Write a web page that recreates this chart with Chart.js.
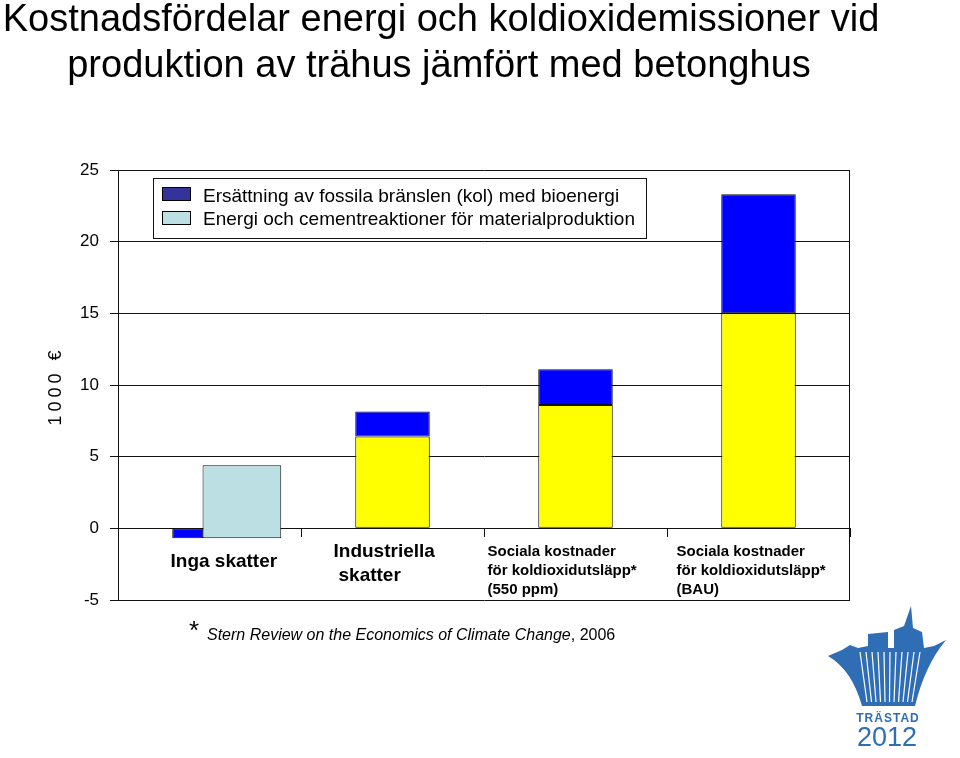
<!DOCTYPE html>
<html>
<head>
<meta charset="utf-8">
<script src="https://cdn.jsdelivr.net/npm/chart.js@4.4.0/dist/chart.umd.min.js"></script>
<style>
  html, body { margin: 0; padding: 0; background: #fff; }
  #wrap { width: 960px; height: 758px; }
</style>
</head>
<body>
<div id="wrap"><canvas id="kostnadChart" width="960" height="758"></canvas></div>
<script>
// --- data ---
var categories = [
  ['Inga skatter'],
  ['Industriella', 'skatter'],
  ['Sociala kostnader', 'för koldioxidutsläpp*', '(550 ppm)'],
  ['Sociala kostnader', 'för koldioxidutsläpp*', '(BAU)']
];
var seriesLabels = [
  'Ersättning av fossila bränslen (kol) med bioenergi',
  'Energi och cementreaktioner för materialproduktion'
];
var fossilValues = [-0.7, 1.75, 2.5, 8.3];          // dark blue (stacked on top)
var materialValues = [[-0.7, 4.4], null, null, null]; // light blue, floating bar
var baseValues = [null, 6.4, 8.6, 15.0];              // yellow base
var yTicks = [-5, 0, 5, 10, 15, 20, 25];

var titleLines = [
  'Kostnadsfördelar energi och koldioxidemissioner vid',
  'produktion av trähus jämfört med betonghus'
];
var yTitle = '1000 €';
var footnoteItalic = 'Stern Review on the Economics of Climate Change';
var footnoteRest = ', 2006';

// label placement under the zero line (offset from category centre)
var labelStyle = [
  { dx: -39, y: 567, size: 19, lh: 24, indent: [0] },
  { dx: -59, y: 557, size: 19, lh: 24, indent: [0, 5] },
  { dx: -88, y: 556, size: 15, lh: 19, indent: [0, 0, 0] },
  { dx: -82, y: 556, size: 15, lh: 19, indent: [0, 0, 0] }
];

var FONT = "'Liberation Sans', Arial, Helvetica, sans-serif";
var LINE = '#111';
var YELLOW = '#ffff00';
var BLUE = '#0000ff';
var LIGHT = '#bcdfe3';
var NAVY = '#333399';
var LOGO = '#2f6db5';

Chart.defaults.font.family = FONT;

function onlyAt(values, keep) {
  return values.map(function (v, i) { return keep.indexOf(i) >= 0 ? v : null; });
}

// rough sketch of the Trästad 2012 logo in the corner
function drawLogo(ctx) {
  ctx.save();
  ctx.fillStyle = LOGO;
  ctx.beginPath();
  ctx.moveTo(828, 656);
  ctx.lineTo(842, 650);
  ctx.lineTo(850, 645);
  ctx.lineTo(858, 648);
  ctx.lineTo(868, 646);
  ctx.lineTo(868, 634);
  ctx.lineTo(888, 632);
  ctx.lineTo(888, 648);
  ctx.lineTo(894, 648);
  ctx.lineTo(894, 630);
  ctx.lineTo(904, 626);
  ctx.lineTo(911, 606);
  ctx.lineTo(913, 628);
  ctx.lineTo(922, 632);
  ctx.lineTo(924, 648);
  ctx.lineTo(934, 646);
  ctx.lineTo(946, 640);
  ctx.quadraticCurveTo(925, 665, 915, 706);
  ctx.lineTo(862, 706);
  ctx.quadraticCurveTo(852, 670, 828, 656);
  ctx.closePath();
  ctx.fill();
  ctx.strokeStyle = '#fff';
  ctx.lineWidth = 1.2;
  for (var x = 860; x <= 920; x += 6) {
    ctx.beginPath();
    ctx.moveTo(x, 652);
    ctx.lineTo(888 + (x - 888) * 0.75, 702);
    ctx.stroke();
  }
  ctx.restore();
}

var slideText = {
  id: 'slideText',
  afterDraw: function (chart) {
    var ctx = chart.ctx;
    var area = chart.chartArea;
    var xScale = chart.scales.x;
    ctx.save();

    // right edge of the plot frame
    ctx.strokeStyle = LINE;
    ctx.lineWidth = 1;
    ctx.beginPath();
    ctx.moveTo(Math.round(area.right) - 0.5, Math.round(area.top) + 0.5);
    ctx.lineTo(Math.round(area.right) - 0.5, Math.round(area.bottom) + 0.5);
    ctx.stroke();

    // title
    ctx.fillStyle = '#000';
    ctx.textAlign = 'center';
    ctx.textBaseline = 'alphabetic';
    ctx.font = '38px ' + FONT;
    ctx.fillText(titleLines[0], 441, 31);
    ctx.fillText(titleLines[1], 439, 77);

    // y axis title, rotated
    ctx.save();
    ctx.translate(56, 386);
    ctx.rotate(-Math.PI / 2);
    ctx.font = '18px ' + FONT;
    ctx.letterSpacing = '4px';
    ctx.textAlign = 'center';
    ctx.textBaseline = 'middle';
    ctx.fillText(yTitle, 0, 0);
    ctx.restore();

    // legend box inside the plot
    ctx.font = '19px ' + FONT;
    ctx.textAlign = 'left';
    var textW = Math.max(ctx.measureText(seriesLabels[0]).width, ctx.measureText(seriesLabels[1]).width);
    var bx = 153, by = 178, bw = Math.round(203 - bx + textW + 11), bh = 60;
    ctx.fillStyle = '#fff';
    ctx.fillRect(bx, by, bw, bh);
    ctx.strokeStyle = LINE;
    ctx.strokeRect(bx + 0.5, by + 0.5, bw, bh);
    var swatches = [NAVY, LIGHT];
    var rowY = [187, 211];
    var baseY = [202, 225];
    for (var i = 0; i < 2; i++) {
      ctx.fillStyle = swatches[i];
      ctx.fillRect(162, rowY[i], 28, 13);
      ctx.strokeStyle = '#000';
      ctx.strokeRect(162.5, rowY[i] + 0.5, 28, 13);
      ctx.fillStyle = '#000';
      ctx.fillText(seriesLabels[i], 203, baseY[i]);
    }

    // category labels below the zero line
    categories.forEach(function (lines, i) {
      var st = labelStyle[i];
      var x = xScale.getPixelForValue(i) + st.dx;
      ctx.font = 'bold ' + st.size + 'px ' + FONT;
      ctx.fillStyle = '#000';
      ctx.textAlign = 'left';
      lines.forEach(function (line, j) {
        ctx.fillText(line, x + (st.indent[j] || 0), st.y + j * st.lh);
      });
    });

    // footnote
    ctx.textAlign = 'left';
    ctx.fillStyle = '#000';
    ctx.font = '26px ' + FONT;
    ctx.fillText('*', 189, 639);
    ctx.font = 'italic 16px ' + FONT;
    ctx.fillText(footnoteItalic, 207, 640);
    var w = ctx.measureText(footnoteItalic).width;
    ctx.font = '16px ' + FONT;
    ctx.fillText(footnoteRest, 207 + w, 640);

    // logo, bottom right
    drawLogo(ctx);
    ctx.fillStyle = LOGO;
    ctx.textAlign = 'center';
    ctx.font = 'bold 12px ' + FONT;
    ctx.letterSpacing = '1px';
    ctx.fillText('TRÄSTAD', 888, 722);
    ctx.letterSpacing = '0px';
    ctx.font = '27px ' + FONT;
    ctx.fillText('2012', 887, 746);

    ctx.restore();
  }
};

var barBorder = { borderColor: LINE, borderWidth: 1, borderSkipped: false };

new Chart(document.getElementById('kostnadChart'), {
  type: 'bar',
  data: {
    labels: categories,
    datasets: [
      Object.assign({
        label: seriesLabels[0],
        data: onlyAt(fossilValues, [0]),
        backgroundColor: BLUE,
        stack: 's',
        categoryPercentage: 0.476,
        barPercentage: 0.711
      }, barBorder),
      Object.assign({
        label: seriesLabels[1],
        data: materialValues,
        backgroundColor: LIGHT,
        stack: 'l',
        categoryPercentage: 0.708,
        barPercentage: 1.215
      }, barBorder),
      Object.assign({
        label: 'bas',
        data: baseValues,
        backgroundColor: YELLOW,
        stack: 's',
        categoryPercentage: 0.8,
        barPercentage: 0.509
      }, barBorder),
      Object.assign({
        label: seriesLabels[0],
        data: onlyAt(fossilValues, [1, 2, 3]),
        backgroundColor: BLUE,
        stack: 's',
        categoryPercentage: 0.8,
        barPercentage: 0.509
      }, barBorder)
    ]
  },
  options: {
    responsive: false,
    animation: false,
    skipNull: true,
    layout: {
      padding: { top: 170, right: 110, bottom: 158, left: 0 }
    },
    scales: {
      x: {
        position: { y: 0 },
        offset: true,
        afterFit: function (scale) { scale.height = 0; },
        grid: {
          offset: true,
          drawOnChartArea: false,
          tickLength: 8,
          color: LINE
        },
        border: { color: LINE, width: 1 },
        ticks: { display: false }
      },
      y: {
        min: -5,
        max: 25,
        stacked: true,
        afterBuildTicks: function (scale) {
          scale.ticks = yTicks.map(function (v) { return { value: v }; });
        },
        afterFit: function (scale) { scale.width = 118; },
        grid: { color: LINE, lineWidth: 1, tickLength: 8 },
        border: { color: LINE, width: 1 },
        ticks: {
          color: '#000',
          padding: 11,
          font: { size: 17 }
        }
      }
    },
    plugins: {
      legend: { display: false },
      tooltip: { enabled: false }
    }
  },
  plugins: [slideText]
});
</script>
</body>
</html>
